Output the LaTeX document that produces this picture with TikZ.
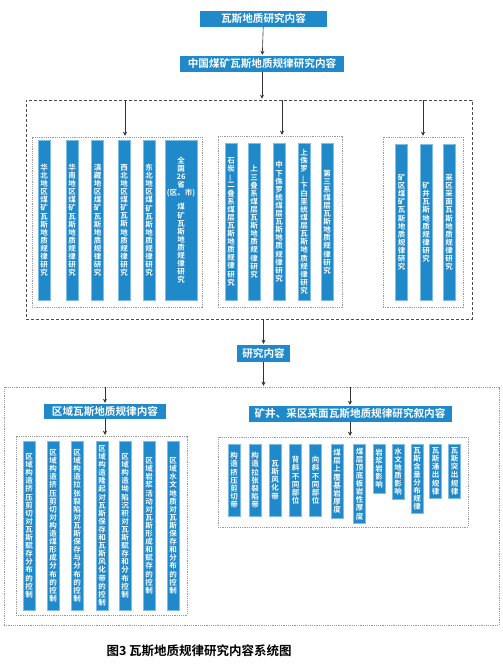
\documentclass[tikz,border=0pt]{standalone}
\usepackage{fontspec}
\setmainfont{Noto Sans CJK SC}[BoldFont={Noto Sans CJK SC Bold}]
\usetikzlibrary{positioning, arrows.meta}

\definecolor{gasblue}{HTML}{1F89C9}
\definecolor{gasedge}{HTML}{7DBDE6}

% stack the characters of a text one below the other
\makeatletter
\newcommand\vstack[1]{%
  \def\vs@body{}\def\vs@sep{}%
  \@tfor\vs@ch:=#1\do{%
    \edef\vs@body{\unexpanded\expandafter{\vs@body}\unexpanded\expandafter{\vs@sep}\unexpanded\expandafter{\vs@ch}}%
    \def\vs@sep{\\}}%
  \vs@body}
\makeatother
\newcommand\updash{\rotatebox[origin=c]{90}{—}}

\begin{document}
\begin{tikzpicture}[x=1pt, y=-1pt,
    head/.style={rectangle, fill=gasblue, text=white, font=\fontsize{10.6}{12}\selectfont\bfseries, inner sep=0pt, minimum height=16pt},
    bar/.style={rectangle, fill=gasblue, draw=gasedge, line width=0.5pt, text=white, font=\fontsize{7.5}{8.1}\selectfont\bfseries, inner sep=0pt, minimum width=12pt, align=center},
    outerbox/.style={rectangle, draw=black!70, dash pattern=on 3pt off 2pt, line width=0.6pt},
    dotbox/.style={rectangle, draw=black!40, dash pattern=on 1.2pt off 1pt, line width=0.5pt},
    arr/.style={-{Stealth[length=4pt, width=4pt]}, draw=black!80, line width=0.6pt, shorten >=1pt}
]
\useasboundingbox (0,0) rectangle (503,665);

% top of the chart
\node[head, minimum width=127pt] (top) at (263.5,19) {瓦斯地质研究内容};
\node[head, minimum width=164pt] (china) at (262,64) {中国煤矿瓦斯地质规律研究内容};
\node[outerbox, minimum width=446pt, minimum height=219pt] (outer) at (249,209.5) {};

% three groups inside the dashed frame
\node[dotbox, minimum width=170pt, minimum height=170pt] (g1) at (117,222) {};
\node[dotbox, minimum width=124pt, minimum height=171pt] (g2) at (280,221.5) {};
\node[dotbox, minimum width=80pt, minimum height=170pt] (g3) at (423,222) {};
\coordinate (t1) at (125,100);
\coordinate (t2) at (282,100);
\coordinate (t3) at (423,100);

% regions
\node[bar, anchor=north, minimum height=160pt] (a1) at (44,140) {\vstack{华北地区煤矿瓦斯地质规律研究}};
\node[bar, anchor=north, minimum height=160pt] (a2) at (72,140) {\vstack{华南地区煤矿瓦斯地质规律研究}};
\node[bar, anchor=north, minimum height=160pt] (a3) at (97.5,140) {\vstack{滇藏地区煤矿瓦斯地质规律研究}};
\node[bar, anchor=north, minimum height=160pt] (a4) at (124,140) {\vstack{西北地区煤矿瓦斯地质规律研究}};
\node[bar, anchor=north, minimum height=160pt] (a5) at (149,140) {\vstack{东北地区煤矿瓦斯地质规律研究}};
\node[bar, anchor=north, minimum height=160pt, minimum width=32pt] (a6) at (181,140)
  {\vstack{全国{26}省{(区、市)}}\\[6pt]\vstack{煤矿瓦斯地质规律研究}};

% coal-bearing strata
\node[bar, anchor=north, minimum height=157pt] (b1) at (231,143) {\vstack{石炭{\updash}二叠系煤层瓦斯地质规律研究}};
\node[bar, anchor=north, minimum height=157pt] (b2) at (254,143) {\vstack{上三叠系煤层瓦斯地质规律研究}};
\node[bar, anchor=north, minimum height=157pt] (b3) at (279,143) {\vstack{中下侏罗统煤层瓦斯地质规律研究}};
\node[bar, anchor=north, minimum height=157pt] (b4) at (304,143) {\vstack{上侏罗{\updash}下白垩统煤层瓦斯地质规律研究}};
\node[bar, anchor=north, minimum height=157pt] (b5) at (327,143) {\vstack{第三系煤层瓦斯地质规律研究}};

% mining areas
\node[bar, anchor=north, minimum height=156pt] (c1) at (401.5,144) {\vstack{矿区煤矿瓦斯地质规律研究}};
\node[bar, anchor=north, minimum height=156pt] (c2) at (426,144) {\vstack{矿井瓦斯地质规律研究}};
\node[bar, anchor=north, minimum height=156pt] (c3) at (449,144) {\vstack{采区采面瓦斯地质规律研究}};

% research content
\node[head, minimum width=53pt, minimum height=17pt] (yj) at (263.5,353.5) {研究内容};
\node[dotbox, minimum width=495pt, minimum height=238pt] (lower) at (251.5,506) {};

% regional content (left)
\node[head, minimum width=122pt, minimum height=15pt] (hL) at (105,411.5) {区域瓦斯地质规律内容};
\node[dotbox, minimum width=171pt, minimum height=179pt] (gL) at (101.5,525.5) {};
\node[bar, anchor=north, minimum height=169pt] (l1) at (29,441) {\vstack{区域构造挤压剪切对瓦斯赋存分布的控制}};
\node[bar, anchor=north, minimum height=169pt] (l2) at (53,441) {\vstack{区域构造挤压剪切对构造煤形成分布的控制}};
\node[bar, anchor=north, minimum height=169pt] (l3) at (77,441) {\vstack{区域构造拉张裂陷对瓦斯保存与分布的控制}};
\node[bar, anchor=north, minimum height=169pt] (l4) at (102,441) {\vstack{区域构造隆起对瓦斯保存和瓦斯风化带的控制}};
\node[bar, anchor=north, minimum height=169pt] (l5) at (125,441) {\vstack{区域构造坳陷沉积对瓦斯赋存和分布控制}};
\node[bar, anchor=north, minimum height=169pt] (l6) at (149,441) {\vstack{区域岩浆活动对瓦斯形成和赋存的控制}};
\node[bar, anchor=north, minimum height=169pt] (l7) at (173,441) {\vstack{区域水文地质对瓦斯保存和分布的控制}};

% mine and panel content (right)
\node[head, minimum width=203pt] (hR) at (350,414) {矿井、采区采面瓦斯地质规律研究叙内容};
\node[dotbox, minimum width=250pt, minimum height=90pt] (gR) at (343,482) {};
\node[bar, anchor=north, minimum height=72pt] (r1) at (234,444) {\vstack{构造挤压剪切带}};
\node[bar, anchor=north, minimum height=72pt] (r2) at (255,444) {\vstack{构造拉张裂陷带}};
\node[bar, anchor=north, minimum height=72pt] (r3) at (275,444) {\vstack{瓦斯风化带}};
\node[bar, anchor=north, minimum height=72pt] (r4) at (295.5,444) {\vstack{背斜不同部位}};
\node[bar, anchor=north, minimum height=72pt] (r5) at (315.5,444) {\vstack{向斜不同部位}};
\node[bar, anchor=north, minimum height=74pt] (r6) at (337,444) {\vstack{煤层上覆基岩厚度}};
\node[bar, anchor=north, minimum height=79pt] (r7) at (359.5,444) {\vstack{煤层顶底板岩性厚度}};
\node[bar, anchor=north, minimum height=49pt] (r8) at (379,444) {\vstack{岩浆岩影响}};
\node[bar, anchor=north, minimum height=55pt] (r9) at (398,444) {\vstack{水文地质影响}};
\node[bar, anchor=north, minimum height=69pt] (r10) at (417,444) {\vstack{瓦斯含量分布规律}};
\node[bar, anchor=north, minimum height=54pt] (r11) at (435.5,444) {\vstack{瓦斯涌出规律}};
\node[bar, anchor=north, minimum height=54pt] (r12) at (454.5,444) {\vstack{瓦斯突出规律}};

% caption
\node[anchor=west, font=\fontsize{12.5}{14}\selectfont\bfseries] (cap) at (103,651) {图3 瓦斯地质规律研究内容系统图};

% arrows
\draw[arr] (top) -- (china);
\draw[arr] (china.south) -- (china.south |- outer.north);
\draw[arr] (t1) -- (t1 |- g1.north);
\draw[arr] (t2) -- (t2 |- g2.north);
\draw[arr] (t3) -- (t3 |- g3.north);
\draw[arr] (yj.north |- outer.south) -- (yj.north);
\draw[arr] (yj.south) -- (yj.south |- lower.north);
\draw[arr] (hL.north |- lower.north) -- (hL.north);
\draw[arr] (hL.south) -- (hL.south |- gL.north);
\draw[arr] (hR.north |- lower.north) -- (hR.north);
\draw[arr] (hR.south) -- (hR.south |- gR.north);

\end{tikzpicture}
\end{document}
